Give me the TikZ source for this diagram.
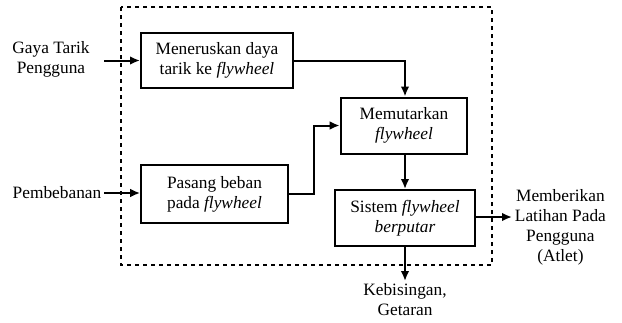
\documentclass[tikz,border=0pt]{standalone}
\usepackage{fontspec}
\setmainfont{LiberationSerif}[Extension=.ttf, UprightFont=*-Regular, ItalicFont=*-Italic, BoldFont=*-Bold]
\usetikzlibrary{arrows.meta}

\tikzset{
  blok/.style={draw, line width=1.5pt, align=center, inner sep=2pt},
  teks/.style={align=center, inner sep=2pt},
  panah/.style={line width=1.5pt, -{Latex[length=7.5pt,width=6.5pt]}},
}

\begin{document}
\begin{tikzpicture}[x=0.75pt,y=-0.75pt, font=\rmfamily\fontsize{13}{15}\selectfont]
			\useasboundingbox (0,0) rectangle (622,322);
			% batas sistem
			\draw[dashed, line width=0.8pt] (121,7) rectangle (492,265);

			% blok proses
			\node[blok, minimum width=114pt, minimum height=41pt] (teruskan) at (217,60.5) {Meneruskan daya\\tarik ke \textit{flywheel}};
			\node[blok, minimum width=95pt, minimum height=42pt] (putar) at (404,125.5) {Memutarkan\\\textit{flywheel}};
			\node[blok, minimum width=110pt, minimum height=43.5pt] (pasang) at (214.5,194) {Pasang beban\\pada \textit{flywheel}};
			\node[blok, minimum width=105pt, minimum height=42pt] (sistem) at (405,218) {Sistem \textit{flywheel}\\\textit{berputar}};

			% masukan dan keluaran
			\node[teks] (gaya) at (51,59.5) {Gaya Tarik\\Pengguna};
			\node[teks] (beban) at (57,193) {Pembebanan};
			\node[teks, anchor=west] (latihan) at (512,227.5) {Memberikan\\Latihan Pada\\Pengguna\\(Atlet)};
			\node[teks, anchor=north] (bising) at (405,281) {Kebisingan,\\Getaran};
			\coordinate (gayaout) at (104,60.5);
			\coordinate (latihanin) at (512,217);

			\draw[panah] (gayaout) -- (teruskan);
			\draw[panah] (beban.east) -- (pasang.west |- beban.east);
			\draw[panah] (teruskan.east) -| (putar.north -| sistem.north);
			\draw[panah] (pasang.east) -- ++(25,0) |- (putar.west);
			\draw[panah] (putar.south -| sistem.north) -- (sistem.north);
			\draw[panah] (sistem.east |- latihanin) -- (latihanin);
			\draw[panah] (sistem.south) -- (bising.north);
\end{tikzpicture}
\end{document}
